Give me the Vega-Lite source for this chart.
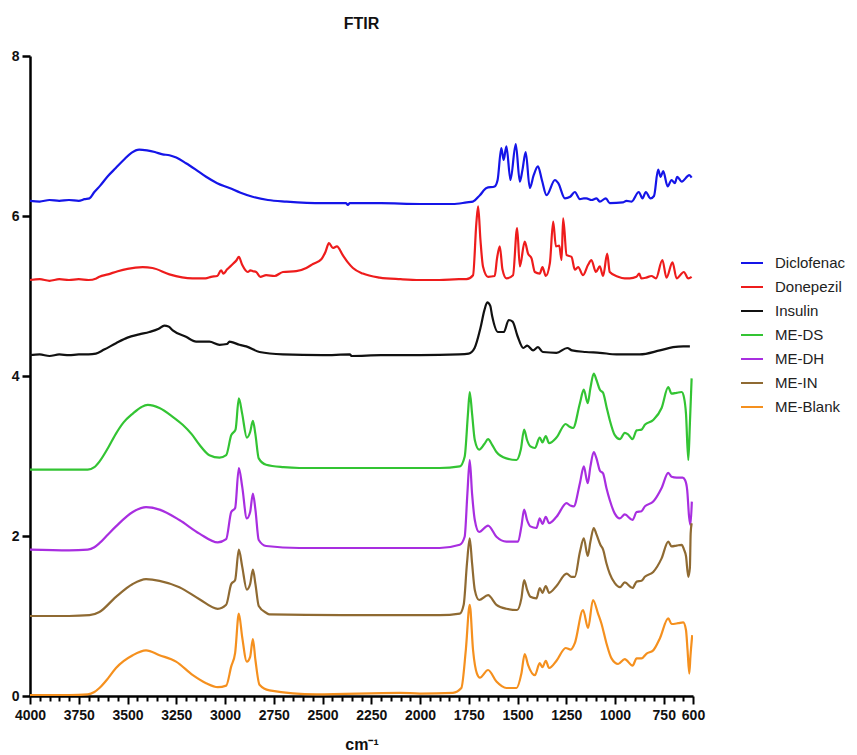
{
"$schema": "https://vega.github.io/schema/vega-lite/v6.json",
"width": 663, "height": 640,
"autosize": {"type": "none"},
"padding": {"left": 30, "top": 56, "right": 164, "bottom": 59},
"background": "white",
"config": {"view": {"stroke": null}, "font": "Liberation Sans"},
"title": {"text": "FTIR", "fontSize": 16, "fontWeight": "bold", "font": "Liberation Sans", "offset": 17, "anchor": "middle", "color": "#111"},
"data": {"values": [
{"s":"Diclofenac","x":4000,"y":6.19},{"s":"Diclofenac","x":3950,"y":6.18},{"s":"Diclofenac","x":3900,"y":6.2},{"s":"Diclofenac","x":3850,"y":6.19},{"s":"Diclofenac","x":3800,"y":6.2},{"s":"Diclofenac","x":3750,"y":6.19},{"s":"Diclofenac","x":3720,"y":6.21},{"s":"Diclofenac","x":3695,"y":6.22},{"s":"Diclofenac","x":3670,"y":6.3},{"s":"Diclofenac","x":3640,"y":6.38},{"s":"Diclofenac","x":3600,"y":6.5},{"s":"Diclofenac","x":3560,"y":6.6},{"s":"Diclofenac","x":3520,"y":6.7},{"s":"Diclofenac","x":3480,"y":6.79},{"s":"Diclofenac","x":3440,"y":6.83},{"s":"Diclofenac","x":3400,"y":6.82},{"s":"Diclofenac","x":3360,"y":6.8},{"s":"Diclofenac","x":3320,"y":6.77},{"s":"Diclofenac","x":3285,"y":6.76},{"s":"Diclofenac","x":3250,"y":6.73},{"s":"Diclofenac","x":3200,"y":6.66},{"s":"Diclofenac","x":3150,"y":6.58},{"s":"Diclofenac","x":3097,"y":6.49},{"s":"Diclofenac","x":3040,"y":6.41},{"s":"Diclofenac","x":2977,"y":6.35},{"s":"Diclofenac","x":2920,"y":6.29},{"s":"Diclofenac","x":2859,"y":6.24},{"s":"Diclofenac","x":2780,"y":6.2},{"s":"Diclofenac","x":2684,"y":6.18},{"s":"Diclofenac","x":2500,"y":6.16},{"s":"Diclofenac","x":2380,"y":6.16},{"s":"Diclofenac","x":2370,"y":6.14},{"s":"Diclofenac","x":2360,"y":6.16},{"s":"Diclofenac","x":2200,"y":6.16},{"s":"Diclofenac","x":2000,"y":6.15},{"s":"Diclofenac","x":1900,"y":6.15},{"s":"Diclofenac","x":1832,"y":6.15},{"s":"Diclofenac","x":1760,"y":6.17},{"s":"Diclofenac","x":1729,"y":6.18},{"s":"Diclofenac","x":1693,"y":6.26},{"s":"Diclofenac","x":1659,"y":6.35},{"s":"Diclofenac","x":1617,"y":6.37},{"s":"Diclofenac","x":1602,"y":6.45},{"s":"Diclofenac","x":1583,"y":6.85},{"s":"Diclofenac","x":1571,"y":6.7},{"s":"Diclofenac","x":1557,"y":6.87},{"s":"Diclofenac","x":1536,"y":6.45},{"s":"Diclofenac","x":1509,"y":6.9},{"s":"Diclofenac","x":1488,"y":6.43},{"s":"Diclofenac","x":1475,"y":6.57},{"s":"Diclofenac","x":1458,"y":6.8},{"s":"Diclofenac","x":1437,"y":6.35},{"s":"Diclofenac","x":1417,"y":6.51},{"s":"Diclofenac","x":1395,"y":6.62},{"s":"Diclofenac","x":1375,"y":6.45},{"s":"Diclofenac","x":1351,"y":6.26},{"s":"Diclofenac","x":1308,"y":6.45},{"s":"Diclofenac","x":1291,"y":6.41},{"s":"Diclofenac","x":1257,"y":6.22},{"s":"Diclofenac","x":1230,"y":6.24},{"s":"Diclofenac","x":1206,"y":6.3},{"s":"Diclofenac","x":1180,"y":6.21},{"s":"Diclofenac","x":1160,"y":6.22},{"s":"Diclofenac","x":1147,"y":6.22},{"s":"Diclofenac","x":1120,"y":6.2},{"s":"Diclofenac","x":1095,"y":6.22},{"s":"Diclofenac","x":1078,"y":6.18},{"s":"Diclofenac","x":1047,"y":6.22},{"s":"Diclofenac","x":1027,"y":6.16},{"s":"Diclofenac","x":960,"y":6.17},{"s":"Diclofenac","x":941,"y":6.19},{"s":"Diclofenac","x":915,"y":6.18},{"s":"Diclofenac","x":878,"y":6.3},{"s":"Diclofenac","x":859,"y":6.22},{"s":"Diclofenac","x":842,"y":6.3},{"s":"Diclofenac","x":818,"y":6.22},{"s":"Diclofenac","x":800,"y":6.25},{"s":"Diclofenac","x":779,"y":6.58},{"s":"Diclofenac","x":766,"y":6.49},{"s":"Diclofenac","x":753,"y":6.56},{"s":"Diclofenac","x":730,"y":6.37},{"s":"Diclofenac","x":710,"y":6.45},{"s":"Diclofenac","x":693,"y":6.41},{"s":"Diclofenac","x":681,"y":6.49},{"s":"Diclofenac","x":658,"y":6.43},{"s":"Diclofenac","x":619,"y":6.51},{"s":"Diclofenac","x":607,"y":6.48},
{"s":"Donepezil","x":4000,"y":5.2},{"s":"Donepezil","x":3950,"y":5.21},{"s":"Donepezil","x":3900,"y":5.19},{"s":"Donepezil","x":3850,"y":5.21},{"s":"Donepezil","x":3800,"y":5.2},{"s":"Donepezil","x":3750,"y":5.21},{"s":"Donepezil","x":3700,"y":5.2},{"s":"Donepezil","x":3660,"y":5.22},{"s":"Donepezil","x":3644,"y":5.24},{"s":"Donepezil","x":3600,"y":5.27},{"s":"Donepezil","x":3550,"y":5.31},{"s":"Donepezil","x":3500,"y":5.34},{"s":"Donepezil","x":3422,"y":5.36},{"s":"Donepezil","x":3372,"y":5.35},{"s":"Donepezil","x":3285,"y":5.27},{"s":"Donepezil","x":3167,"y":5.22},{"s":"Donepezil","x":3100,"y":5.22},{"s":"Donepezil","x":3071,"y":5.24},{"s":"Donepezil","x":3040,"y":5.25},{"s":"Donepezil","x":3020,"y":5.32},{"s":"Donepezil","x":3008,"y":5.28},{"s":"Donepezil","x":2990,"y":5.33},{"s":"Donepezil","x":2960,"y":5.4},{"s":"Donepezil","x":2940,"y":5.45},{"s":"Donepezil","x":2929,"y":5.49},{"s":"Donepezil","x":2912,"y":5.39},{"s":"Donepezil","x":2883,"y":5.3},{"s":"Donepezil","x":2870,"y":5.32},{"s":"Donepezil","x":2857,"y":5.31},{"s":"Donepezil","x":2840,"y":5.3},{"s":"Donepezil","x":2819,"y":5.24},{"s":"Donepezil","x":2789,"y":5.26},{"s":"Donepezil","x":2746,"y":5.25},{"s":"Donepezil","x":2703,"y":5.3},{"s":"Donepezil","x":2635,"y":5.31},{"s":"Donepezil","x":2583,"y":5.35},{"s":"Donepezil","x":2549,"y":5.4},{"s":"Donepezil","x":2506,"y":5.46},{"s":"Donepezil","x":2485,"y":5.55},{"s":"Donepezil","x":2467,"y":5.66},{"s":"Donepezil","x":2447,"y":5.6},{"s":"Donepezil","x":2426,"y":5.62},{"s":"Donepezil","x":2396,"y":5.51},{"s":"Donepezil","x":2370,"y":5.42},{"s":"Donepezil","x":2344,"y":5.35},{"s":"Donepezil","x":2293,"y":5.28},{"s":"Donepezil","x":2207,"y":5.23},{"s":"Donepezil","x":2100,"y":5.21},{"s":"Donepezil","x":2002,"y":5.2},{"s":"Donepezil","x":1900,"y":5.2},{"s":"Donepezil","x":1800,"y":5.21},{"s":"Donepezil","x":1762,"y":5.21},{"s":"Donepezil","x":1728,"y":5.26},{"s":"Donepezil","x":1711,"y":5.91},{"s":"Donepezil","x":1702,"y":6.12},{"s":"Donepezil","x":1690,"y":5.7},{"s":"Donepezil","x":1677,"y":5.37},{"s":"Donepezil","x":1651,"y":5.24},{"s":"Donepezil","x":1617,"y":5.25},{"s":"Donepezil","x":1605,"y":5.47},{"s":"Donepezil","x":1591,"y":5.62},{"s":"Donepezil","x":1577,"y":5.33},{"s":"Donepezil","x":1557,"y":5.22},{"s":"Donepezil","x":1523,"y":5.26},{"s":"Donepezil","x":1502,"y":5.85},{"s":"Donepezil","x":1488,"y":5.37},{"s":"Donepezil","x":1463,"y":5.68},{"s":"Donepezil","x":1446,"y":5.53},{"s":"Donepezil","x":1428,"y":5.47},{"s":"Donepezil","x":1411,"y":5.3},{"s":"Donepezil","x":1386,"y":5.28},{"s":"Donepezil","x":1372,"y":5.36},{"s":"Donepezil","x":1355,"y":5.25},{"s":"Donepezil","x":1334,"y":5.41},{"s":"Donepezil","x":1317,"y":5.93},{"s":"Donepezil","x":1303,"y":5.62},{"s":"Donepezil","x":1286,"y":5.63},{"s":"Donepezil","x":1274,"y":5.45},{"s":"Donepezil","x":1266,"y":5.97},{"s":"Donepezil","x":1248,"y":5.51},{"s":"Donepezil","x":1223,"y":5.49},{"s":"Donepezil","x":1206,"y":5.33},{"s":"Donepezil","x":1189,"y":5.36},{"s":"Donepezil","x":1164,"y":5.26},{"s":"Donepezil","x":1138,"y":5.39},{"s":"Donepezil","x":1121,"y":5.45},{"s":"Donepezil","x":1098,"y":5.3},{"s":"Donepezil","x":1078,"y":5.37},{"s":"Donepezil","x":1061,"y":5.25},{"s":"Donepezil","x":1040,"y":5.53},{"s":"Donepezil","x":1027,"y":5.3},{"s":"Donepezil","x":984,"y":5.24},{"s":"Donepezil","x":950,"y":5.22},{"s":"Donepezil","x":924,"y":5.22},{"s":"Donepezil","x":890,"y":5.24},{"s":"Donepezil","x":876,"y":5.28},{"s":"Donepezil","x":865,"y":5.22},{"s":"Donepezil","x":840,"y":5.23},{"s":"Donepezil","x":813,"y":5.25},{"s":"Donepezil","x":790,"y":5.22},{"s":"Donepezil","x":757,"y":5.45},{"s":"Donepezil","x":736,"y":5.23},{"s":"Donepezil","x":705,"y":5.42},{"s":"Donepezil","x":684,"y":5.22},{"s":"Donepezil","x":647,"y":5.3},{"s":"Donepezil","x":624,"y":5.22},{"s":"Donepezil","x":607,"y":5.24},
{"s":"Insulin","x":4000,"y":4.26},{"s":"Insulin","x":3950,"y":4.27},{"s":"Insulin","x":3900,"y":4.25},{"s":"Insulin","x":3850,"y":4.27},{"s":"Insulin","x":3800,"y":4.26},{"s":"Insulin","x":3750,"y":4.27},{"s":"Insulin","x":3700,"y":4.27},{"s":"Insulin","x":3662,"y":4.28},{"s":"Insulin","x":3620,"y":4.33},{"s":"Insulin","x":3559,"y":4.41},{"s":"Insulin","x":3500,"y":4.48},{"s":"Insulin","x":3440,"y":4.52},{"s":"Insulin","x":3388,"y":4.55},{"s":"Insulin","x":3340,"y":4.59},{"s":"Insulin","x":3311,"y":4.63},{"s":"Insulin","x":3290,"y":4.62},{"s":"Insulin","x":3268,"y":4.57},{"s":"Insulin","x":3200,"y":4.49},{"s":"Insulin","x":3148,"y":4.43},{"s":"Insulin","x":3080,"y":4.43},{"s":"Insulin","x":3028,"y":4.39},{"s":"Insulin","x":2990,"y":4.4},{"s":"Insulin","x":2977,"y":4.43},{"s":"Insulin","x":2960,"y":4.42},{"s":"Insulin","x":2926,"y":4.39},{"s":"Insulin","x":2891,"y":4.37},{"s":"Insulin","x":2823,"y":4.3},{"s":"Insulin","x":2703,"y":4.27},{"s":"Insulin","x":2500,"y":4.26},{"s":"Insulin","x":2360,"y":4.27},{"s":"Insulin","x":2350,"y":4.25},{"s":"Insulin","x":2200,"y":4.26},{"s":"Insulin","x":2000,"y":4.26},{"s":"Insulin","x":1800,"y":4.27},{"s":"Insulin","x":1750,"y":4.28},{"s":"Insulin","x":1720,"y":4.35},{"s":"Insulin","x":1690,"y":4.6},{"s":"Insulin","x":1670,"y":4.82},{"s":"Insulin","x":1655,"y":4.92},{"s":"Insulin","x":1640,"y":4.88},{"s":"Insulin","x":1630,"y":4.75},{"s":"Insulin","x":1600,"y":4.55},{"s":"Insulin","x":1570,"y":4.55},{"s":"Insulin","x":1545,"y":4.7},{"s":"Insulin","x":1525,"y":4.68},{"s":"Insulin","x":1500,"y":4.5},{"s":"Insulin","x":1470,"y":4.35},{"s":"Insulin","x":1450,"y":4.38},{"s":"Insulin","x":1420,"y":4.32},{"s":"Insulin","x":1395,"y":4.36},{"s":"Insulin","x":1370,"y":4.3},{"s":"Insulin","x":1300,"y":4.29},{"s":"Insulin","x":1245,"y":4.35},{"s":"Insulin","x":1220,"y":4.32},{"s":"Insulin","x":1150,"y":4.3},{"s":"Insulin","x":1078,"y":4.29},{"s":"Insulin","x":992,"y":4.27},{"s":"Insulin","x":873,"y":4.27},{"s":"Insulin","x":770,"y":4.32},{"s":"Insulin","x":702,"y":4.36},{"s":"Insulin","x":650,"y":4.37},{"s":"Insulin","x":616,"y":4.37},
{"s":"ME-DS","x":4000,"y":2.83},{"s":"ME-DS","x":3800,"y":2.83},{"s":"ME-DS","x":3704,"y":2.83},{"s":"ME-DS","x":3670,"y":2.86},{"s":"ME-DS","x":3644,"y":2.93},{"s":"ME-DS","x":3600,"y":3.1},{"s":"ME-DS","x":3559,"y":3.28},{"s":"ME-DS","x":3520,"y":3.42},{"s":"ME-DS","x":3473,"y":3.53},{"s":"ME-DS","x":3430,"y":3.61},{"s":"ME-DS","x":3396,"y":3.64},{"s":"ME-DS","x":3336,"y":3.6},{"s":"ME-DS","x":3268,"y":3.49},{"s":"ME-DS","x":3217,"y":3.39},{"s":"ME-DS","x":3170,"y":3.27},{"s":"ME-DS","x":3131,"y":3.14},{"s":"ME-DS","x":3080,"y":3.01},{"s":"ME-DS","x":3028,"y":2.98},{"s":"ME-DS","x":2994,"y":3.01},{"s":"ME-DS","x":2968,"y":3.26},{"s":"ME-DS","x":2946,"y":3.33},{"s":"ME-DS","x":2929,"y":3.72},{"s":"ME-DS","x":2912,"y":3.53},{"s":"ME-DS","x":2888,"y":3.23},{"s":"ME-DS","x":2871,"y":3.3},{"s":"ME-DS","x":2857,"y":3.44},{"s":"ME-DS","x":2844,"y":3.27},{"s":"ME-DS","x":2827,"y":2.97},{"s":"ME-DS","x":2789,"y":2.89},{"s":"ME-DS","x":2700,"y":2.86},{"s":"ME-DS","x":2618,"y":2.85},{"s":"ME-DS","x":2300,"y":2.85},{"s":"ME-DS","x":2000,"y":2.85},{"s":"ME-DS","x":1899,"y":2.85},{"s":"ME-DS","x":1796,"y":2.87},{"s":"ME-DS","x":1771,"y":2.99},{"s":"ME-DS","x":1754,"y":3.53},{"s":"ME-DS","x":1745,"y":3.8},{"s":"ME-DS","x":1733,"y":3.53},{"s":"ME-DS","x":1719,"y":3.2},{"s":"ME-DS","x":1697,"y":3.08},{"s":"ME-DS","x":1670,"y":3.15},{"s":"ME-DS","x":1651,"y":3.21},{"s":"ME-DS","x":1630,"y":3.14},{"s":"ME-DS","x":1608,"y":3.05},{"s":"ME-DS","x":1557,"y":2.97},{"s":"ME-DS","x":1505,"y":2.95},{"s":"ME-DS","x":1483,"y":3.08},{"s":"ME-DS","x":1466,"y":3.33},{"s":"ME-DS","x":1451,"y":3.2},{"s":"ME-DS","x":1434,"y":3.12},{"s":"ME-DS","x":1411,"y":3.1},{"s":"ME-DS","x":1386,"y":3.23},{"s":"ME-DS","x":1372,"y":3.17},{"s":"ME-DS","x":1355,"y":3.25},{"s":"ME-DS","x":1338,"y":3.16},{"s":"ME-DS","x":1300,"y":3.23},{"s":"ME-DS","x":1253,"y":3.4},{"s":"ME-DS","x":1236,"y":3.37},{"s":"ME-DS","x":1215,"y":3.35},{"s":"ME-DS","x":1180,"y":3.66},{"s":"ME-DS","x":1160,"y":3.83},{"s":"ME-DS","x":1140,"y":3.66},{"s":"ME-DS","x":1126,"y":3.85},{"s":"ME-DS","x":1109,"y":4.03},{"s":"ME-DS","x":1095,"y":3.95},{"s":"ME-DS","x":1078,"y":3.83},{"s":"ME-DS","x":1061,"y":3.79},{"s":"ME-DS","x":1044,"y":3.62},{"s":"ME-DS","x":1027,"y":3.45},{"s":"ME-DS","x":1001,"y":3.26},{"s":"ME-DS","x":975,"y":3.21},{"s":"ME-DS","x":950,"y":3.29},{"s":"ME-DS","x":933,"y":3.27},{"s":"ME-DS","x":910,"y":3.21},{"s":"ME-DS","x":889,"y":3.32},{"s":"ME-DS","x":864,"y":3.33},{"s":"ME-DS","x":847,"y":3.39},{"s":"ME-DS","x":804,"y":3.45},{"s":"ME-DS","x":761,"y":3.6},{"s":"ME-DS","x":727,"y":3.86},{"s":"ME-DS","x":710,"y":3.78},{"s":"ME-DS","x":684,"y":3.79},{"s":"ME-DS","x":658,"y":3.8},{"s":"ME-DS","x":646,"y":3.73},{"s":"ME-DS","x":636,"y":3.53},{"s":"ME-DS","x":624,"y":2.95},{"s":"ME-DS","x":616,"y":3.4},{"s":"ME-DS","x":607,"y":3.97},
{"s":"ME-DH","x":4000,"y":1.83},{"s":"ME-DH","x":3800,"y":1.82},{"s":"ME-DH","x":3704,"y":1.83},{"s":"ME-DH","x":3670,"y":1.86},{"s":"ME-DH","x":3644,"y":1.91},{"s":"ME-DH","x":3600,"y":2.02},{"s":"ME-DH","x":3559,"y":2.12},{"s":"ME-DH","x":3473,"y":2.3},{"s":"ME-DH","x":3405,"y":2.36},{"s":"ME-DH","x":3336,"y":2.33},{"s":"ME-DH","x":3234,"y":2.2},{"s":"ME-DH","x":3131,"y":2.03},{"s":"ME-DH","x":3037,"y":1.92},{"s":"ME-DH","x":2994,"y":1.96},{"s":"ME-DH","x":2968,"y":2.3},{"s":"ME-DH","x":2948,"y":2.35},{"s":"ME-DH","x":2929,"y":2.85},{"s":"ME-DH","x":2912,"y":2.62},{"s":"ME-DH","x":2888,"y":2.22},{"s":"ME-DH","x":2871,"y":2.3},{"s":"ME-DH","x":2857,"y":2.53},{"s":"ME-DH","x":2844,"y":2.33},{"s":"ME-DH","x":2827,"y":1.95},{"s":"ME-DH","x":2789,"y":1.875},{"s":"ME-DH","x":2618,"y":1.85},{"s":"ME-DH","x":2000,"y":1.85},{"s":"ME-DH","x":1899,"y":1.85},{"s":"ME-DH","x":1796,"y":1.89},{"s":"ME-DH","x":1771,"y":1.99},{"s":"ME-DH","x":1757,"y":2.53},{"s":"ME-DH","x":1745,"y":2.95},{"s":"ME-DH","x":1733,"y":2.53},{"s":"ME-DH","x":1719,"y":2.2},{"s":"ME-DH","x":1697,"y":2.05},{"s":"ME-DH","x":1651,"y":2.13},{"s":"ME-DH","x":1608,"y":1.99},{"s":"ME-DH","x":1557,"y":1.93},{"s":"ME-DH","x":1497,"y":1.93},{"s":"ME-DH","x":1480,"y":2.12},{"s":"ME-DH","x":1466,"y":2.33},{"s":"ME-DH","x":1451,"y":2.2},{"s":"ME-DH","x":1434,"y":2.12},{"s":"ME-DH","x":1403,"y":2.1},{"s":"ME-DH","x":1386,"y":2.22},{"s":"ME-DH","x":1372,"y":2.15},{"s":"ME-DH","x":1355,"y":2.24},{"s":"ME-DH","x":1338,"y":2.16},{"s":"ME-DH","x":1300,"y":2.24},{"s":"ME-DH","x":1248,"y":2.41},{"s":"ME-DH","x":1229,"y":2.38},{"s":"ME-DH","x":1212,"y":2.37},{"s":"ME-DH","x":1180,"y":2.66},{"s":"ME-DH","x":1160,"y":2.87},{"s":"ME-DH","x":1140,"y":2.66},{"s":"ME-DH","x":1126,"y":2.87},{"s":"ME-DH","x":1109,"y":3.05},{"s":"ME-DH","x":1095,"y":2.97},{"s":"ME-DH","x":1078,"y":2.82},{"s":"ME-DH","x":1061,"y":2.78},{"s":"ME-DH","x":1044,"y":2.6},{"s":"ME-DH","x":1027,"y":2.45},{"s":"ME-DH","x":1001,"y":2.28},{"s":"ME-DH","x":975,"y":2.22},{"s":"ME-DH","x":950,"y":2.27},{"s":"ME-DH","x":910,"y":2.2},{"s":"ME-DH","x":889,"y":2.3},{"s":"ME-DH","x":864,"y":2.31},{"s":"ME-DH","x":847,"y":2.37},{"s":"ME-DH","x":804,"y":2.43},{"s":"ME-DH","x":761,"y":2.6},{"s":"ME-DH","x":727,"y":2.79},{"s":"ME-DH","x":710,"y":2.74},{"s":"ME-DH","x":684,"y":2.73},{"s":"ME-DH","x":653,"y":2.73},{"s":"ME-DH","x":641,"y":2.7},{"s":"ME-DH","x":630,"y":2.58},{"s":"ME-DH","x":620,"y":2.24},{"s":"ME-DH","x":613,"y":2.14},{"s":"ME-DH","x":606,"y":2.43},
{"s":"ME-IN","x":4000,"y":1.0},{"s":"ME-IN","x":3800,"y":1.0},{"s":"ME-IN","x":3695,"y":1.01},{"s":"ME-IN","x":3644,"y":1.05},{"s":"ME-IN","x":3559,"y":1.24},{"s":"ME-IN","x":3473,"y":1.4},{"s":"ME-IN","x":3405,"y":1.46},{"s":"ME-IN","x":3336,"y":1.44},{"s":"ME-IN","x":3234,"y":1.36},{"s":"ME-IN","x":3131,"y":1.21},{"s":"ME-IN","x":3037,"y":1.09},{"s":"ME-IN","x":2994,"y":1.14},{"s":"ME-IN","x":2968,"y":1.4},{"s":"ME-IN","x":2948,"y":1.45},{"s":"ME-IN","x":2929,"y":1.83},{"s":"ME-IN","x":2912,"y":1.62},{"s":"ME-IN","x":2888,"y":1.33},{"s":"ME-IN","x":2871,"y":1.4},{"s":"ME-IN","x":2857,"y":1.58},{"s":"ME-IN","x":2844,"y":1.4},{"s":"ME-IN","x":2827,"y":1.125},{"s":"ME-IN","x":2789,"y":1.04},{"s":"ME-IN","x":2772,"y":1.02},{"s":"ME-IN","x":2400,"y":1.01},{"s":"ME-IN","x":2000,"y":1.01},{"s":"ME-IN","x":1899,"y":1.01},{"s":"ME-IN","x":1796,"y":1.03},{"s":"ME-IN","x":1776,"y":1.14},{"s":"ME-IN","x":1759,"y":1.66},{"s":"ME-IN","x":1745,"y":1.97},{"s":"ME-IN","x":1733,"y":1.66},{"s":"ME-IN","x":1719,"y":1.325},{"s":"ME-IN","x":1697,"y":1.2},{"s":"ME-IN","x":1651,"y":1.26},{"s":"ME-IN","x":1608,"y":1.14},{"s":"ME-IN","x":1557,"y":1.09},{"s":"ME-IN","x":1502,"y":1.075},{"s":"ME-IN","x":1480,"y":1.22},{"s":"ME-IN","x":1466,"y":1.45},{"s":"ME-IN","x":1451,"y":1.33},{"s":"ME-IN","x":1434,"y":1.24},{"s":"ME-IN","x":1403,"y":1.22},{"s":"ME-IN","x":1386,"y":1.35},{"s":"ME-IN","x":1372,"y":1.29},{"s":"ME-IN","x":1355,"y":1.375},{"s":"ME-IN","x":1338,"y":1.29},{"s":"ME-IN","x":1300,"y":1.375},{"s":"ME-IN","x":1248,"y":1.53},{"s":"ME-IN","x":1223,"y":1.49},{"s":"ME-IN","x":1206,"y":1.49},{"s":"ME-IN","x":1180,"y":1.8},{"s":"ME-IN","x":1160,"y":1.97},{"s":"ME-IN","x":1140,"y":1.75},{"s":"ME-IN","x":1126,"y":1.93},{"s":"ME-IN","x":1109,"y":2.1},{"s":"ME-IN","x":1095,"y":2.02},{"s":"ME-IN","x":1075,"y":1.89},{"s":"ME-IN","x":1061,"y":1.83},{"s":"ME-IN","x":1044,"y":1.66},{"s":"ME-IN","x":1027,"y":1.53},{"s":"ME-IN","x":1001,"y":1.41},{"s":"ME-IN","x":975,"y":1.36},{"s":"ME-IN","x":950,"y":1.42},{"s":"ME-IN","x":910,"y":1.35},{"s":"ME-IN","x":889,"y":1.43},{"s":"ME-IN","x":864,"y":1.44},{"s":"ME-IN","x":847,"y":1.49},{"s":"ME-IN","x":804,"y":1.55},{"s":"ME-IN","x":761,"y":1.72},{"s":"ME-IN","x":727,"y":1.93},{"s":"ME-IN","x":710,"y":1.87},{"s":"ME-IN","x":684,"y":1.88},{"s":"ME-IN","x":658,"y":1.89},{"s":"ME-IN","x":646,"y":1.83},{"s":"ME-IN","x":636,"y":1.75},{"s":"ME-IN","x":624,"y":1.49},{"s":"ME-IN","x":616,"y":1.6},{"s":"ME-IN","x":612,"y":2.03},{"s":"ME-IN","x":607,"y":2.16},
{"s":"ME-Blank","x":4000,"y":0.01},{"s":"ME-Blank","x":3800,"y":0.01},{"s":"ME-Blank","x":3704,"y":0.02},{"s":"ME-Blank","x":3670,"y":0.05},{"s":"ME-Blank","x":3644,"y":0.1},{"s":"ME-Blank","x":3600,"y":0.22},{"s":"ME-Blank","x":3559,"y":0.35},{"s":"ME-Blank","x":3473,"y":0.51},{"s":"ME-Blank","x":3405,"y":0.57},{"s":"ME-Blank","x":3336,"y":0.51},{"s":"ME-Blank","x":3251,"y":0.43},{"s":"ME-Blank","x":3165,"y":0.26},{"s":"ME-Blank","x":3097,"y":0.16},{"s":"ME-Blank","x":3037,"y":0.11},{"s":"ME-Blank","x":2994,"y":0.13},{"s":"ME-Blank","x":2968,"y":0.37},{"s":"ME-Blank","x":2948,"y":0.54},{"s":"ME-Blank","x":2929,"y":1.03},{"s":"ME-Blank","x":2912,"y":0.74},{"s":"ME-Blank","x":2888,"y":0.43},{"s":"ME-Blank","x":2871,"y":0.49},{"s":"ME-Blank","x":2857,"y":0.71},{"s":"ME-Blank","x":2844,"y":0.45},{"s":"ME-Blank","x":2823,"y":0.14},{"s":"ME-Blank","x":2772,"y":0.07},{"s":"ME-Blank","x":2532,"y":0.02},{"s":"ME-Blank","x":2104,"y":0.04},{"s":"ME-Blank","x":2000,"y":0.03},{"s":"ME-Blank","x":1831,"y":0.04},{"s":"ME-Blank","x":1788,"y":0.1},{"s":"ME-Blank","x":1765,"y":0.575},{"s":"ME-Blank","x":1745,"y":1.14},{"s":"ME-Blank","x":1728,"y":0.575},{"s":"ME-Blank","x":1708,"y":0.28},{"s":"ME-Blank","x":1693,"y":0.23},{"s":"ME-Blank","x":1651,"y":0.325},{"s":"ME-Blank","x":1608,"y":0.18},{"s":"ME-Blank","x":1557,"y":0.1},{"s":"ME-Blank","x":1505,"y":0.1},{"s":"ME-Blank","x":1480,"y":0.28},{"s":"ME-Blank","x":1463,"y":0.525},{"s":"ME-Blank","x":1446,"y":0.39},{"s":"ME-Blank","x":1411,"y":0.26},{"s":"ME-Blank","x":1386,"y":0.41},{"s":"ME-Blank","x":1372,"y":0.36},{"s":"ME-Blank","x":1355,"y":0.44},{"s":"ME-Blank","x":1338,"y":0.35},{"s":"ME-Blank","x":1300,"y":0.44},{"s":"ME-Blank","x":1253,"y":0.6},{"s":"ME-Blank","x":1227,"y":0.58},{"s":"ME-Blank","x":1206,"y":0.66},{"s":"ME-Blank","x":1164,"y":1.075},{"s":"ME-Blank","x":1138,"y":0.85},{"s":"ME-Blank","x":1113,"y":1.2},{"s":"ME-Blank","x":1087,"y":1.03},{"s":"ME-Blank","x":1070,"y":0.91},{"s":"ME-Blank","x":1044,"y":0.66},{"s":"ME-Blank","x":1018,"y":0.47},{"s":"ME-Blank","x":984,"y":0.4},{"s":"ME-Blank","x":950,"y":0.46},{"s":"ME-Blank","x":910,"y":0.38},{"s":"ME-Blank","x":889,"y":0.47},{"s":"ME-Blank","x":864,"y":0.47},{"s":"ME-Blank","x":838,"y":0.53},{"s":"ME-Blank","x":804,"y":0.57},{"s":"ME-Blank","x":770,"y":0.72},{"s":"ME-Blank","x":727,"y":0.97},{"s":"ME-Blank","x":710,"y":0.9},{"s":"ME-Blank","x":676,"y":0.91},{"s":"ME-Blank","x":650,"y":0.92},{"s":"ME-Blank","x":636,"y":0.825},{"s":"ME-Blank","x":628,"y":0.575},{"s":"ME-Blank","x":619,"y":0.28},{"s":"ME-Blank","x":613,"y":0.5},{"s":"ME-Blank","x":604,"y":0.76}
]},
"mark": {"type": "line", "strokeWidth": 2.2, "interpolate": "monotone", "clip": true},
"encoding": {
"x": {"field": "x", "type": "quantitative", "title": "cm⁻¹",
 "scale": {"domain": [600, 4000], "reverse": true, "nice": false, "zero": false},
 "axis": {"values": [4000,3950,3900,3850,3800,3750,3700,3650,3600,3550,3500,3450,3400,3350,3300,3250,3200,3150,3100,3050,3000,2950,2900,2850,2800,2750,2700,2650,2600,2550,2500,2450,2400,2350,2300,2250,2200,2150,2100,2050,2000,1950,1900,1850,1800,1750,1700,1650,1600,1550,1500,1450,1400,1350,1300,1250,1200,1150,1100,1050,1000,950,900,850,800,750,700,650,600],
  "format": "d", "labelExpr": "datum.value % 250 === 0 || datum.value === 600 ? datum.label : ''",
  "labelOverlap": false, "labelFlush": false, "grid": false,
  "domainColor": "black", "domainWidth": 2.5, "tickColor": "black", "tickWidth": 2,
  "tickSize": {"condition": {"test": "datum.value % 250 === 0 || datum.value === 600", "value": 8}, "value": 5},
  "labelFont": "Liberation Sans", "labelFontSize": 14, "labelFontWeight": "bold", "labelColor": "#111", "labelPadding": 4,
  "titleFont": "Liberation Sans", "titleFontSize": 16, "titleFontWeight": "bold", "titleColor": "#111", "titlePadding": 14}},
"y": {"field": "y", "type": "quantitative", "title": null,
 "scale": {"domain": [0, 8], "nice": false, "zero": true},
 "axis": {"values": [0,2,4,6,8], "grid": false, "domainColor": "black", "domainWidth": 2.5, "tickColor": "black", "tickWidth": 2.5, "tickSize": 8,
  "labelFont": "Liberation Sans", "labelFontSize": 14, "labelFontWeight": "bold", "labelColor": "#111", "labelPadding": 3}},
"color": {"field": "s", "type": "nominal",
 "scale": {"domain": ["Diclofenac","Donepezil","Insulin","ME-DS","ME-DH","ME-IN","ME-Blank"],
  "range": ["#1515e8","#ee1c1c","#111111","#33c433","#a82ee0","#8f6a32","#f5901e"]},
 "legend": {"orient": "none", "legendX": 710, "legendY": 195, "title": null, "symbolType": "stroke", "symbolSize": 484, "symbolStrokeWidth": 2,
  "labelFont": "Liberation Sans", "labelFontSize": 15, "labelColor": "#222", "labelOffset": 11, "rowPadding": 4}}
}
}
